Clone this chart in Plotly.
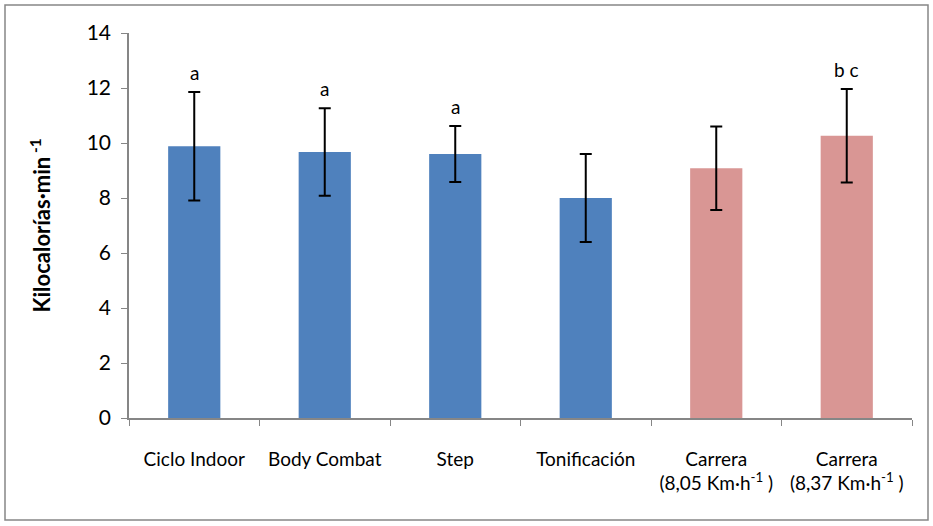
import plotly.graph_objects as go

categories = ["Ciclo Indoor", "Body Combat", "Step", "Tonificación",
              "Carrera<br>(8,05 Km·h<sup>-1</sup> )", "Carrera<br>(8,37 Km·h<sup>-1</sup> )"]
values = [9.88, 9.67, 9.60, 8.00, 9.08, 10.26]
errors = [1.97, 1.59, 1.02, 1.60, 1.52, 1.70]
letters = ["a", "a", "a", "", "", "b c"]
colors = ["#4F81BD", "#4F81BD", "#4F81BD", "#4F81BD", "#D99694", "#D99694"]
y_ticks = [0, 2, 4, 6, 8, 10, 12, 14]

W, H = 933, 526
ml, mr, mt, mb = 129, 21, 33, 108
pw, ph = W - ml - mr, H - mt - mb

fig = go.Figure()
fig.add_trace(go.Bar(
    x=categories, y=values,
    marker=dict(color=colors, line=dict(width=0)),
    width=0.4,
    error_y=dict(type="data", array=errors, visible=True,
                 color="black", thickness=2, width=6),
    showlegend=False,
))

for c, v, e, t in zip(categories, values, errors, letters):
    if t:
        fig.add_annotation(x=c, y=v + e, text=t, showarrow=False,
                           yanchor="bottom", yshift=6,
                           font=dict(size=19, color="black"))

# outer chart border
fig.add_shape(type="rect", xref="paper", yref="paper",
              x0=(5 - ml) / pw, x1=(928 - ml) / pw,
              y0=(H - mb - 520) / ph, y1=(H - mb - 5) / ph,
              line=dict(color="#868686", width=1.5), layer="below")

fig.update_layout(
    width=W, height=H,
    margin=dict(l=ml, r=mr, t=mt, b=mb),
    plot_bgcolor="white", paper_bgcolor="white",
    font=dict(family="Lato, Open Sans, sans-serif", color="black"),
    bargap=0.6,
)
fig.update_xaxes(
    showline=True, linecolor="#868686", linewidth=1.5,
    ticks="outside", tickson="boundaries", ticklen=6, tickcolor="#868686",
    tickfont=dict(size=19), showgrid=False, ticklabelstandoff=23,
)
fig.update_yaxes(
    range=[0, 14], tickvals=y_ticks,
    showline=True, linecolor="#868686", linewidth=1.5,
    ticks="outside", ticklen=6, tickcolor="#868686",
    tickfont=dict(size=21), showgrid=False, zeroline=False,
    ticklabelstandoff=6,
    title=dict(text="<b>Kilocalorías·min<sup> -1</sup></b>", font=dict(size=22), standoff=30),
)

fig.write_html("out.html")
